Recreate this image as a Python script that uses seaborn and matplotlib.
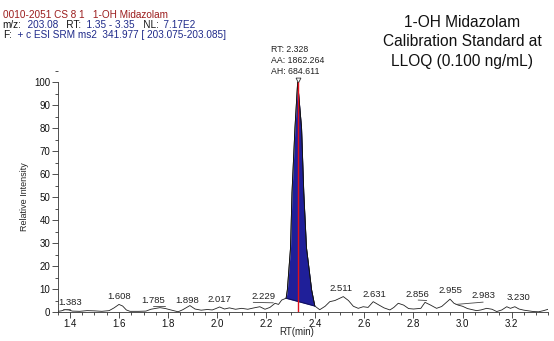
import numpy as np
import pandas as pd
import seaborn as sns
import matplotlib
matplotlib.use('Agg')
import matplotlib.pyplot as plt
from matplotlib.text import Annotation
from matplotlib.ticker import MultipleLocator

# chromatogram trace (RT in min, relative intensity %)
rt = [1.350, 1.365, 1.380, 1.395, 1.410, 1.440, 1.470, 1.500, 1.530, 1.560,
      1.580, 1.600, 1.615, 1.630, 1.645, 1.680, 1.710, 1.730, 1.767, 1.790,
      1.815, 1.841, 1.860, 1.889, 1.910, 1.935, 1.960, 1.980, 1.995, 2.010,
      2.030, 2.050, 2.075, 2.100, 2.125, 2.150, 2.174, 2.195, 2.215, 2.236,
      2.250, 2.263, 2.281, 2.286, 2.299, 2.305, 2.317, 2.328, 2.344, 2.353,
      2.364, 2.385, 2.398, 2.418, 2.440, 2.459, 2.480, 2.514, 2.535, 2.555,
      2.575, 2.595, 2.615, 2.636, 2.660, 2.680, 2.704, 2.720, 2.738, 2.760,
      2.780, 2.800, 2.830, 2.847, 2.870, 2.894, 2.915, 2.949, 2.965, 2.982,
      3.000, 3.020, 3.057, 3.075, 3.098, 3.120, 3.139, 3.160, 3.180, 3.195,
      3.213, 3.230, 3.250, 3.289, 3.310, 3.330, 3.349]
intensity = [0.3, 0.5, 1.0, 0.9, 0.4, 0.3, 0.6, 0.5, 0.3, 0.6,
             1.8, 3.3, 2.6, 0.9, 0.3, 0.3, 0.4, 1.2, 1.9, 1.5,
             0.8, 0.1, 1.0, 2.8, 1.3, 0.8, 1.1, 0.9, 1.5, 2.2,
             1.3, 1.8, 1.2, 1.6, 1.2, 1.8, 2.3, 1.2, 2.0, 3.8,
             3.3, 5.2, 6.0, 9.6, 28.0, 52.0, 80.0, 100.0, 80.0, 52.0,
             28.0, 9.6, 2.6, 1.0, 2.5, 4.5, 5.0, 6.7, 5.0, 2.5,
             1.6, 2.3, 2.0, 4.5, 3.0, 1.8, 0.9, 2.0, 3.8, 3.0,
             1.5, 1.3, 1.6, 4.2, 3.0, 1.6, 2.4, 5.6, 3.8, 3.0,
             2.5, 1.5, 0.6, 0.9, 1.6, 1.2, 0.2, 0.9, 2.3, 1.6,
             2.3, 1.3, 0.8, 0.2, 0.1, 0.6, 1.2]

# integrated peak
peak_rt = 2.328
peak_start = (2.281, 6.0)
peak_end = (2.398, 2.6)
peak_info = ["RT: 2.328", "AA: 1862.264", "AH: 684.611"]

# labelled apexes
peak_labels = ["1.383", "1.608", "1.785", "1.898", "2.017", "2.229",
               "2.511", "2.631", "2.856", "2.955", "2.983", "3.230"]
label_x = [1.402, 1.600, 1.740, 1.876, 2.011, 2.188,
           2.505, 2.640, 2.815, 2.951, 3.084, 3.227]
label_y = [4.0, 6.7, 4.9, 5.2, 5.5, 6.7, 10.3, 7.7, 7.7, 9.2, 7.0, 6.2]

sns.set_style("ticks")
plt.rcParams['font.family'] = ['Liberation Sans', 'DejaVu Sans']

fig = plt.figure(figsize=(5.54, 3.41), dpi=100)
ax = fig.add_axes([0.104, 0.085, 0.886, 0.708])

df = pd.DataFrame({"RT": rt, "Intensity": intensity})
sns.lineplot(data=df, x="RT", y="Intensity", ax=ax, color="#222222", linewidth=0.6)

# filled peak area above the drawn baseline
pk = df[(df.RT >= peak_start[0]) & (df.RT <= peak_end[0])]
base = np.interp(pk.RT, [peak_start[0], peak_end[0]], [peak_start[1], peak_end[1]])
ax.fill_between(pk.RT, base, pk.Intensity, color="#1f1f99", linewidth=0)
ax.plot([peak_start[0], peak_end[0]], [peak_start[1], peak_end[1]], color="#101060", lw=0.8)
ax.plot(pk.RT, pk.Intensity, color="#111111", lw=0.6)
ax.vlines(peak_rt, 0, 100, color="#e0101a", lw=1.0, zorder=5)
ax.plot([peak_rt], [100.8], marker="v", ms=3.5, mfc="none", mec="#333333", mew=0.6, clip_on=False)

for i, s in enumerate(peak_info):
    ax.text(2.219, 114 - i * 4.7, s, fontsize=6.3, color="#222222", ha="left", va="center",
            clip_on=False)

for s, x, y in zip(peak_labels, label_x, label_y):
    ax.text(x, y, s, fontsize=6.8, color="#222222", ha="center", va="center")

# leader lines under offset labels
for x0, x1, y0, y1 in [(1.373, 1.40, 1.3, 1.3), (1.739, 1.787, 2.6, 2.6),
                       (2.147, 2.229, 4.2, 4.0), (2.819, 2.854, 5.2, 5.0),
                       (2.973, 3.084, 3.3, 4.3)]:
    ax.plot([x0, x1], [y0, y1], color="#444444", lw=0.6)

ax.set_xlim(1.35, 3.35)
ax.set_ylim(0, 105)
ax.xaxis.set_major_locator(MultipleLocator(0.2))
ax.xaxis.set_minor_locator(MultipleLocator(0.05))
ax.set_yticks(range(0, 101, 10))
ax.yaxis.set_minor_locator(MultipleLocator(5))
ax.set_xticklabels([f"{t:.1f}" for t in ax.get_xticks()])
ax.tick_params(axis="both", which="major", labelsize=7, length=4, width=0.6, pad=1.2, colors="#333333")
ax.tick_params(axis="both", which="minor", length=2.5, width=0.6, colors="#333333")
for t in ax.get_xticklabels() + ax.get_yticklabels():
    t.set_color("#111111")
ax.set_xlim(1.35, 3.35)

sns.despine(ax=ax)
ax.spines["left"].set_bounds(0, 100)
for side in ["left", "bottom"]:
    ax.spines[side].set_linewidth(0.6)
    ax.spines[side].set_color("#333333")

ax.set_xlabel("RT(min)", fontsize=7)
ax.set_ylabel("Relative Intensity", fontsize=6.5)
ax.xaxis.set_label_coords(0.488, -0.063)
ax.yaxis.set_label_coords(-0.058, 0.48)

# header block, pieces chained left to right
red = "#9b1c1c"
blue = "#1f2a8a"
hdr = 7.2


def chained_line(y_px, pieces):
    t = fig.text(2.7 / 554, 1 - y_px / 341, pieces[0][0], color=pieces[0][1],
                 fontsize=hdr, va="baseline")
    for s, c in pieces[1:]:
        t = fig.add_artist(Annotation(
            s, xy=(1, 0), xycoords=t, xytext=(0, 0), textcoords="offset points",
            color=c, fontsize=hdr, va="bottom", ha="left"))


fig.text(2.7 / 554, 1 - 17.5 / 341, "0010-2051 CS 8 1   1-OH Midazolam", color=red,
         fontsize=hdr, va="baseline")
chained_line(27.5, [("m/z:", "#111111"), ("  203.08", blue), ("   RT:", "#111111"),
                    ("  1.35 - 3.35", blue), ("   NL:", "#111111"), ("  7.17E2", blue)])
chained_line(37.5, [("F:", "#111111"), ("  + c ESI SRM ms2  341.977 [ 203.075-203.085]", blue)])

fig.text(462 / 554, 1 - 42 / 341, "1-OH Midazolam\nCalibration Standard at\nLLOQ (0.100 ng/mL)",
         fontsize=11.2, ha="center", va="center", linespacing=1.35, color="#111111")

fig.savefig("out.png", dpi=100)
